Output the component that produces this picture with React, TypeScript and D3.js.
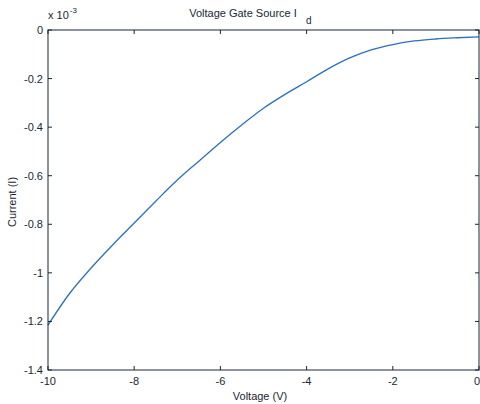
import React, { useEffect, useRef } from "react";
import * as d3 from "d3";

// voltage (V) and drain current (x 10^-3 A)
const voltage = [-10, -9.5, -9, -8.5, -8, -7.5, -7, -6.5, -6, -5.5, -5, -4.5, -4, -3.5, -3, -2.5, -2, -1.5, -1, -0.5, 0];
const current = [-1.215, -1.085, -0.98, -0.885, -0.795, -0.705, -0.618, -0.54, -0.463, -0.39, -0.322, -0.265, -0.213, -0.16, -0.115, -0.082, -0.06, -0.045, -0.037, -0.032, -0.028];
const xTicks = [-10, -8, -6, -4, -2, 0];
const yTicks = [0, -0.2, -0.4, -0.6, -0.8, -1, -1.2, -1.4];

const W = 480;
const H = 404;
const margin = { top: 30, right: 1, bottom: 34, left: 48 };

const App = () => {
  const svgRef = useRef<SVGSVGElement>(null);

  useEffect(() => {
    const svg = d3.select(svgRef.current);
    svg.selectAll("*").remove();
    const w = W - margin.left - margin.right;
    const h = H - margin.top - margin.bottom;
    const font = "Liberation Sans, Arial, sans-serif";
    const ink = "#1b2633";
    const fmt = (d: number) => String(+d.toFixed(1)); // plain hyphen minus, like the original

    const x = d3.scaleLinear().domain([-10, 0]).range([0, w]);
    const y = d3.scaleLinear().domain([-1.4, 0]).range([h, 0]);

    const g = svg.append("g").attr("transform", `translate(${margin.left},${margin.top})`);

    // the curve
    const line = d3
      .line<number>()
      .x((_, i) => x(voltage[i]))
      .y((d) => y(d))
      .curve(d3.curveMonotoneX);
    g.append("path")
      .datum(current)
      .attr("d", line)
      .attr("fill", "none")
      .attr("stroke", "#2c6fc0")
      .attr("stroke-width", 1.3);

    // box
    g.append("rect")
      .attr("width", w)
      .attr("height", h)
      .attr("fill", "none")
      .attr("stroke", ink)
      .attr("stroke-width", 1);

    // ticks inside, on all four sides
    const tickLen = 4;
    g.selectAll(".xt")
      .data(xTicks)
      .enter()
      .append("path")
      .attr("d", (d) => `M${x(d)},${h}v${-tickLen}M${x(d)},0v${tickLen}`)
      .attr("stroke", ink);
    g.selectAll(".yt")
      .data(yTicks)
      .enter()
      .append("path")
      .attr("d", (d) => `M0,${y(d)}h${tickLen}M${w},${y(d)}h${-tickLen}`)
      .attr("stroke", ink);

    // tick labels
    g.selectAll(".xl")
      .data(xTicks)
      .enter()
      .append("text")
      .attr("x", (d) => (d === 0 ? x(d) + 1 : x(d)))
      .attr("y", h + 15)
      .attr("text-anchor", (d) => (d === 0 ? "end" : "middle"))
      .attr("font-family", font)
      .attr("font-size", 11)
      .attr("fill", ink)
      .text((d) => fmt(d));
    g.selectAll(".yl")
      .data(yTicks)
      .enter()
      .append("text")
      .attr("x", -5)
      .attr("y", (d) => y(d) + 4)
      .attr("text-anchor", "end")
      .attr("font-family", font)
      .attr("font-size", 11)
      .attr("fill", ink)
      .text((d) => fmt(d));

    // exponent
    const ex = svg.append("text")
      .attr("x", margin.left)
      .attr("y", 19)
      .attr("font-family", font)
      .attr("font-size", 11)
      .attr("fill", ink);
    ex.append("tspan").text("x 10");
    ex.append("tspan").attr("font-size", 8).attr("dy", -6).attr("dx", 1).text("-3");

    // title
    svg.append("text")
      .attr("x", 243)
      .attr("y", 17)
      .attr("text-anchor", "middle")
      .attr("font-family", font)
      .attr("font-size", 11)
      .attr("fill", ink)
      .text("Voltage Gate Source I");
    svg.append("text")
      .attr("x", 306)
      .attr("y", 24)
      .attr("font-family", font)
      .attr("font-size", 10)
      .attr("fill", ink)
      .text("d");

    // axis titles
    svg.append("text")
      .attr("x", 260)
      .attr("y", 400)
      .attr("text-anchor", "middle")
      .attr("font-family", font)
      .attr("font-size", 11)
      .attr("fill", ink)
      .text("Voltage (V)");
    svg.append("text")
      .attr("transform", `translate(16,202) rotate(-90)`)
      .attr("text-anchor", "middle")
      .attr("font-family", font)
      .attr("font-size", 11)
      .attr("fill", ink)
      .text("Current (I)");
  }, []);

  return (
    <svg
      ref={svgRef}
      width={W}
      height={H}
      style={{ position: "absolute", left: 0, top: 0, background: "#fff" }}
    ></svg>
  );
};

export default App;
